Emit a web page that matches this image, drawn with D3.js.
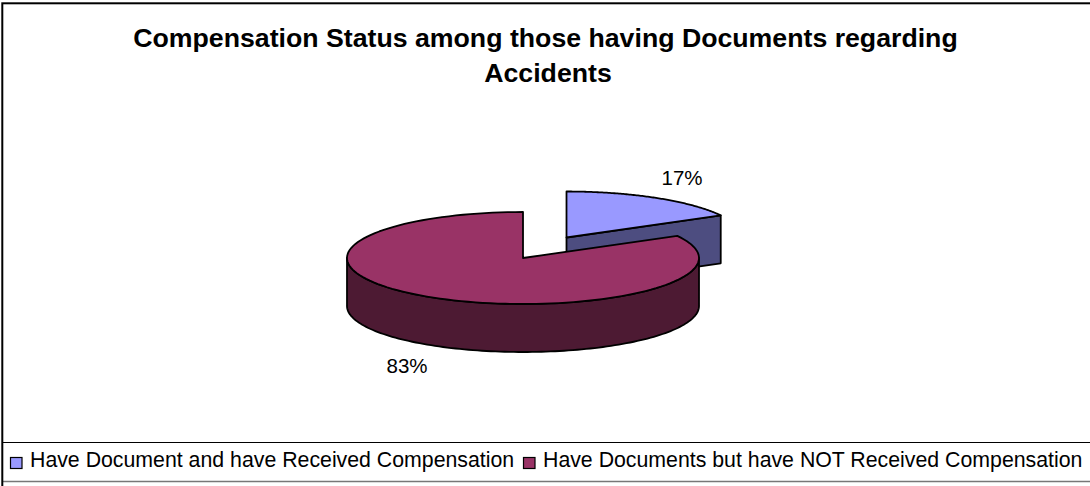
<!DOCTYPE html>
<html>
<head>
<meta charset="utf-8">
<script src="https://cdn.jsdelivr.net/npm/d3@7"></script>
<style>
  html, body { margin: 0; padding: 0; background: #fff; }
  text { font-family: "Liberation Sans", Arial, sans-serif; fill: #000; }
</style>
</head>
<body>
<div id="chart"></div>
<script>
const categories = ["Have Document and have Received Compensation", "Have Documents but have NOT Received Compensation"];
const values = [17, 83];
const valueLabels = ["17%", "83%"];
const topColors = ["#9999ff", "#993366"];
const sideColors = ["#4d4d80", "#4d1a33"];
const titleLines = ["Compensation Status among those having Documents regarding", "Accidents"];

const width = 1090, height = 486;
const rx = 176, ry = 46, depth = 48;
const centers = [{ x: 566.5, y: 237.5 }, { x: 523, y: 258 }];
const labelPos = [{ x: 682, y: 185 }, { x: 407, y: 373 }];

const svg = d3.select("#chart")
    .append("svg")
    .attr("width", width)
    .attr("height", height)
    .style("display", "block");

svg.append("rect").attr("width", width).attr("height", height).attr("fill", "#fff");

// title
const titleX = [545.5, 548];
svg.append("g").selectAll("text")
    .data(titleLines)
    .join("text")
    .attr("x", (d, i) => titleX[i])
    .attr("y", (d, i) => 46.5 + i * 35.5)
    .attr("text-anchor", "middle")
    .attr("font-size", 26.7)
    .attr("font-weight", "bold")
    .text(d => d);

// pie angles, clockwise from twelve o'clock
const slices = d3.pie().sort(null).value(d => d)(values);

// point on the tilted ellipse for a pie angle
const px = (c, a) => c.x + rx * Math.sin(a);
const py = (c, a) => c.y - ry * Math.cos(a);
const arcAngles = (a0, a1) => d3.range(0, 121).map(i => a0 + (a1 - a0) * i / 120);
const line = d3.line();

function topPath(c, s) {
    const rim = arcAngles(s.startAngle, s.endAngle).map(a => [px(c, a), py(c, a)]);
    return line([[c.x, c.y], ...rim]) + "Z";
}

// outer wall, only the part of the rim facing the viewer
function wallPath(c, s) {
    const a0 = Math.max(s.startAngle, Math.PI / 2);
    const a1 = Math.min(s.endAngle, Math.PI * 1.5);
    const rim = arcAngles(a0, a1).map(a => [px(c, a), py(c, a)]);
    const low = rim.map(p => [p[0], p[1] + depth]).reverse();
    return line([...rim, ...low]) + "Z";
}

// cut face along the start radius
function cutPath(c, s) {
    const a = s.startAngle;
    return line([[c.x, c.y], [px(c, a), py(c, a)], [px(c, a), py(c, a) + depth], [c.x, c.y + depth]]) + "Z";
}

const pie = svg.append("g")
    .attr("stroke", "#000")
    .attr("stroke-width", 1.8)
    .attr("stroke-linejoin", "round");

// small slice first, the big one sits in front of it
pie.append("path").attr("d", cutPath(centers[0], { startAngle: slices[0].endAngle })).attr("fill", sideColors[0]);
pie.append("path").attr("d", topPath(centers[0], slices[0])).attr("fill", topColors[0]);
pie.append("path").attr("d", wallPath(centers[1], slices[1])).attr("fill", sideColors[1]);
pie.append("path").attr("d", topPath(centers[1], slices[1])).attr("fill", topColors[1]);

svg.append("g").selectAll("text")
    .data(valueLabels)
    .join("text")
    .attr("x", (d, i) => labelPos[i].x)
    .attr("y", (d, i) => labelPos[i].y)
    .attr("text-anchor", "middle")
    .attr("font-size", 20.5)
    .text(d => d);

// legend band
const legend = svg.append("g");
legend.append("line").attr("x1", 2).attr("x2", width).attr("y1", 442.5).attr("y2", 442.5).attr("stroke", "#000").attr("stroke-width", 1);
legend.append("line").attr("x1", 2).attr("x2", width).attr("y1", 481.5).attr("y2", 481.5).attr("stroke", "#777").attr("stroke-width", 1.5);

const legendX = [30, 543];
const items = legend.selectAll("g")
    .data(categories)
    .join("g");
items.append("rect")
    .attr("x", (d, i) => legendX[i] - 19.5)
    .attr("y", 457.5)
    .attr("width", 11.5)
    .attr("height", 11)
    .attr("fill", (d, i) => topColors[i])
    .attr("stroke", "#000")
    .attr("stroke-width", 1.2);
items.append("text")
    .attr("x", (d, i) => legendX[i])
    .attr("y", 467)
    .attr("font-size", 21.3)
    .text(d => d);

// outer frame, runs off the right and bottom of the picture
svg.append("rect")
    .attr("x", 2.3).attr("y", 3.3).attr("width", width).attr("height", height)
    .attr("fill", "none").attr("stroke", "#000").attr("stroke-width", 2);
</script>
</body>
</html>
